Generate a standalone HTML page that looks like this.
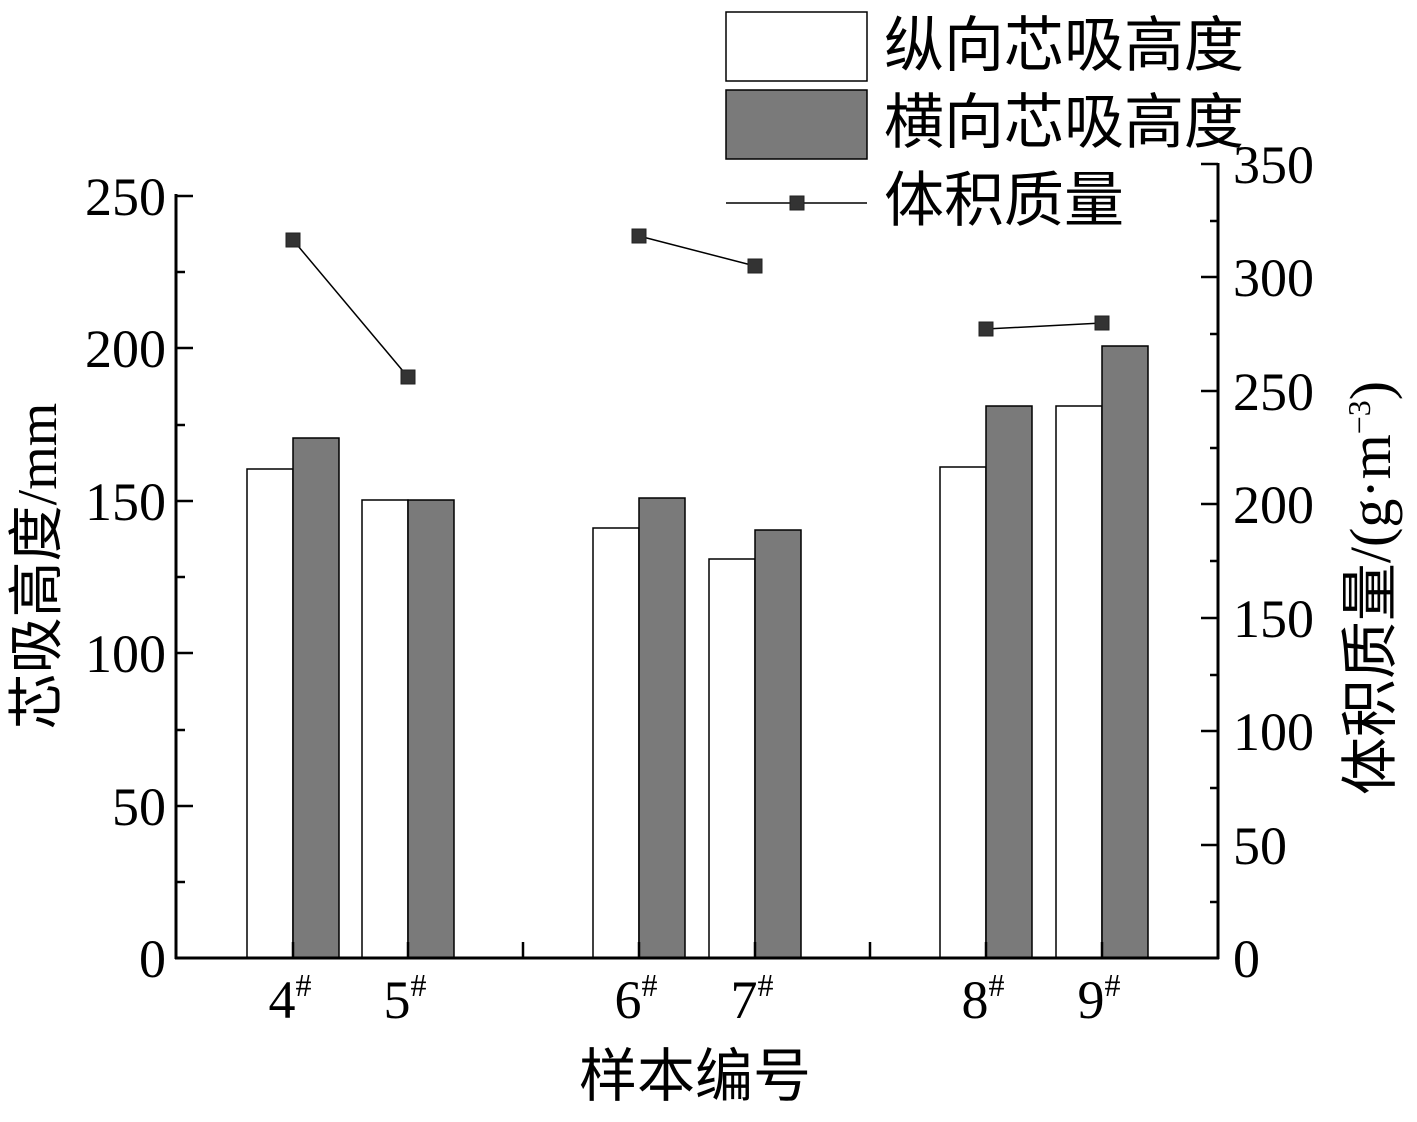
<!DOCTYPE html>
<html><head><meta charset="utf-8"><style>
body{margin:0;background:#fff}
svg{display:block}
text{font-family:"Liberation Serif","Noto Serif CJK SC",serif;fill:#000}
.cj{font-family:"Liberation Serif","Noto Sans CJK SC",sans-serif}
</style></head><body>
<svg width="1417" height="1122" viewBox="0 0 1417 1122" xmlns="http://www.w3.org/2000/svg">
<g stroke="#000" stroke-width="1.5">
<rect x="247" y="469" width="46" height="489" fill="#fff"/>
<rect x="293" y="438" width="46" height="520" fill="#7a7a7a"/>
<rect x="362" y="500" width="46" height="458" fill="#fff"/>
<rect x="408" y="500" width="46" height="458" fill="#7a7a7a"/>
<rect x="593" y="528" width="46" height="430" fill="#fff"/>
<rect x="639" y="498" width="46" height="460" fill="#7a7a7a"/>
<rect x="709" y="559" width="46" height="399" fill="#fff"/>
<rect x="755" y="530" width="46" height="428" fill="#7a7a7a"/>
<rect x="940" y="467" width="46" height="491" fill="#fff"/>
<rect x="986" y="406" width="46" height="552" fill="#7a7a7a"/>
<rect x="1056" y="406" width="46" height="552" fill="#fff"/>
<rect x="1102" y="346" width="46" height="612" fill="#7a7a7a"/>
</g>
<g stroke="#000" stroke-width="3" fill="none">
<line x1="176" y1="194" x2="176" y2="959"/>
<line x1="1218" y1="163" x2="1218" y2="959"/>
<line x1="175" y1="958" x2="1219" y2="958"/>
</g>
<g stroke="#000" stroke-width="2.5">
<line x1="176" y1="196" x2="193" y2="196"/><line x1="176" y1="272" x2="185" y2="272"/>
<line x1="176" y1="348" x2="193" y2="348"/><line x1="176" y1="425" x2="185" y2="425"/>
<line x1="176" y1="501" x2="193" y2="501"/><line x1="176" y1="577" x2="185" y2="577"/>
<line x1="176" y1="653" x2="193" y2="653"/><line x1="176" y1="730" x2="185" y2="730"/>
<line x1="176" y1="806" x2="193" y2="806"/><line x1="176" y1="882" x2="185" y2="882"/>
<line x1="1201" y1="164" x2="1218" y2="164"/><line x1="1210" y1="221" x2="1218" y2="221"/>
<line x1="1201" y1="277" x2="1218" y2="277"/><line x1="1210" y1="334" x2="1218" y2="334"/>
<line x1="1201" y1="391" x2="1218" y2="391"/><line x1="1210" y1="448" x2="1218" y2="448"/>
<line x1="1201" y1="504" x2="1218" y2="504"/><line x1="1210" y1="561" x2="1218" y2="561"/>
<line x1="1201" y1="618" x2="1218" y2="618"/><line x1="1210" y1="675" x2="1218" y2="675"/>
<line x1="1201" y1="731" x2="1218" y2="731"/><line x1="1210" y1="788" x2="1218" y2="788"/>
<line x1="1201" y1="845" x2="1218" y2="845"/><line x1="1210" y1="902" x2="1218" y2="902"/>
<line x1="293" y1="942" x2="293" y2="958"/><line x1="408" y1="942" x2="408" y2="958"/>
<line x1="523" y1="942" x2="523" y2="958"/><line x1="639" y1="942" x2="639" y2="958"/>
<line x1="755" y1="942" x2="755" y2="958"/><line x1="870" y1="942" x2="870" y2="958"/>
<line x1="986" y1="942" x2="986" y2="958"/><line x1="1102" y1="942" x2="1102" y2="958"/>
</g>
<g stroke="#000" stroke-width="1.5">
<line x1="293" y1="240" x2="408" y2="377"/>
<line x1="639" y1="236" x2="755" y2="266"/>
<line x1="986" y1="329" x2="1102" y2="323"/>
</g>
<g fill="#333" stroke="#222" stroke-width="1">
<rect x="286" y="233" width="14" height="14"/><rect x="401" y="370" width="14" height="14"/>
<rect x="632" y="229" width="14" height="14"/><rect x="748" y="259" width="14" height="14"/>
<rect x="979" y="322" width="14" height="14"/><rect x="1095" y="316" width="14" height="14"/>
</g>
<g font-size="54" text-anchor="end">
<text x="166" y="215">250</text><text x="166" y="367">200</text>
<text x="166" y="520">150</text><text x="166" y="672">100</text>
<text x="166" y="825">50</text><text x="166" y="977">0</text>
</g>
<g font-size="54" text-anchor="start">
<text x="1233" y="183">350</text><text x="1233" y="296">300</text>
<text x="1233" y="410">250</text><text x="1233" y="523">200</text>
<text x="1233" y="637">150</text><text x="1233" y="750">100</text>
<text x="1233" y="864">50</text><text x="1233" y="977">0</text>
</g>
<g font-size="54" text-anchor="middle">
<text x="290" y="1018">4<tspan font-size="32" dy="-22">#</tspan></text>
<text x="405" y="1018">5<tspan font-size="32" dy="-22">#</tspan></text>
<text x="636" y="1018">6<tspan font-size="32" dy="-22">#</tspan></text>
<text x="752" y="1018">7<tspan font-size="32" dy="-22">#</tspan></text>
<text x="983" y="1018">8<tspan font-size="32" dy="-22">#</tspan></text>
<text x="1099" y="1018">9<tspan font-size="32" dy="-22">#</tspan></text>
</g>
<text class="cj" x="695" y="1096" font-size="58" text-anchor="middle">样本编号</text>
<text class="cj" transform="translate(56,566) rotate(-90)" font-size="56" text-anchor="middle">芯吸高度<tspan font-family="Liberation Serif,serif">/mm</tspan></text>
<text class="cj" transform="translate(1390,588) rotate(-90)" font-size="58" text-anchor="middle">体积质量<tspan font-family="Liberation Serif,serif">/(g·m<tspan font-size="32" dy="-20">−3</tspan><tspan dy="20">)</tspan></tspan></text>
<rect x="726" y="12" width="141" height="69" fill="#fff" stroke="#000" stroke-width="1.5"/>
<rect x="726" y="90" width="141" height="69" fill="#7a7a7a" stroke="#000" stroke-width="1.5"/>
<line x1="726" y1="203" x2="867" y2="203" stroke="#000" stroke-width="1.5"/>
<rect x="790" y="196" width="14" height="14" fill="#333" stroke="#222"/>
<g font-size="60">
<text class="cj" x="884" y="66">纵向芯吸高度</text>
<text class="cj" x="884" y="143">横向芯吸高度</text>
<text class="cj" x="884" y="221">体积质量</text>
</g>
</svg>
</body></html>
